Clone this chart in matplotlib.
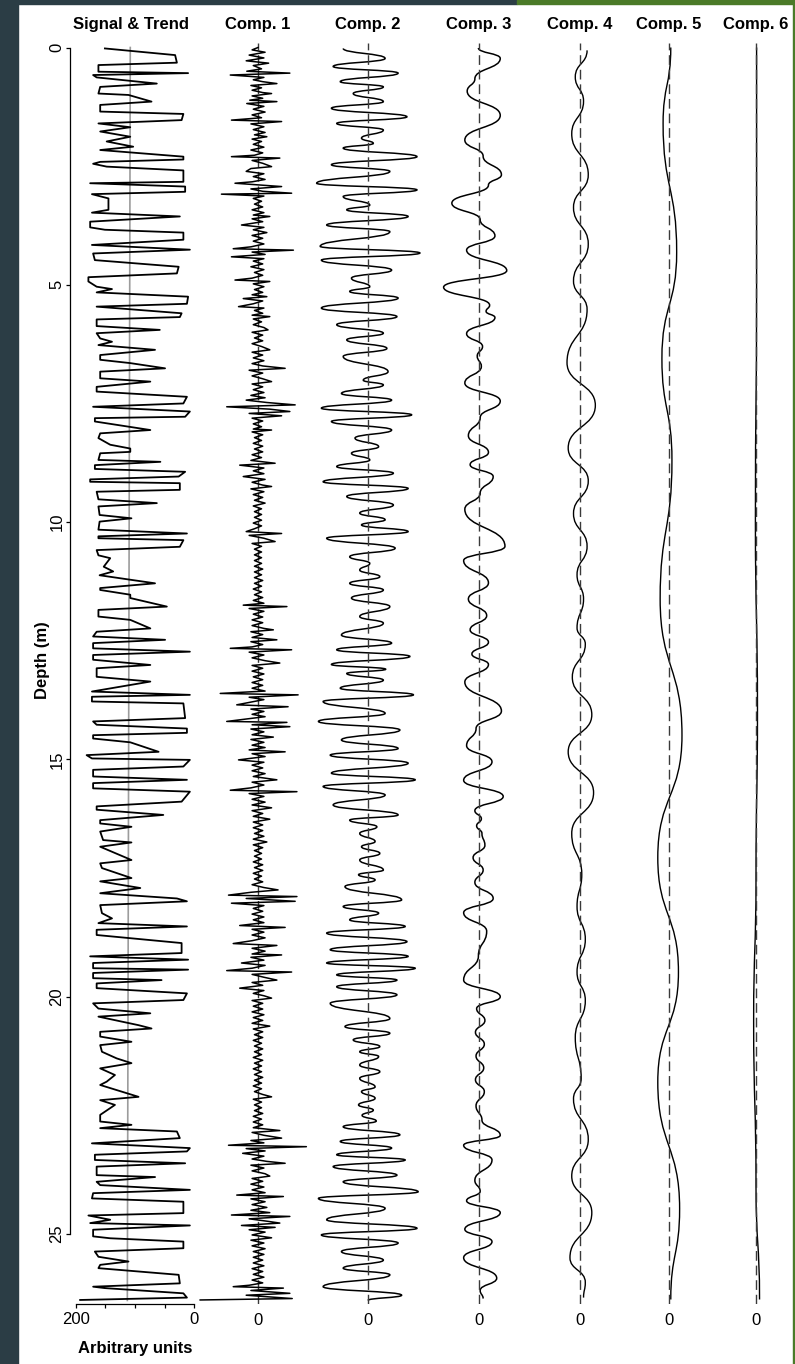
import matplotlib
matplotlib.use("Agg")
import matplotlib.pyplot as plt
from matplotlib.path import Path
from matplotlib.patches import PathPatch, Rectangle

plt.rcParams['font.family'] = ['Liberation Sans', 'DejaVu Sans']

# ---- data (depth in m, value in arbitrary units) ----
signal = [
    (0.02, 151), (0.16, 32), (0.32, 29), (0.37, 162), (0.51, 162), (0.54, 10), (0.58, 171), (0.63, 165),
    (0.76, 63), (0.83, 159), (0.97, 162), (1.00, 111), (1.14, 72), (1.21, 159), (1.35, 159), (1.40, 18),
    (1.53, 21), (1.60, 162), (1.68, 108), (1.77, 159), (1.88, 108), (1.98, 148), (2.09, 103), (2.16, 159),
    (2.30, 18), (2.36, 18), (2.41, 159), (2.45, 171), (2.51, 148), (2.59, 18), (2.83, 18), (2.86, 176),
    (2.93, 15), (3.04, 15), (3.09, 173), (3.18, 145), (3.42, 145), (3.48, 173), (3.56, 24), (3.67, 176),
    (3.79, 176), (3.84, 151), (3.90, 18), (4.05, 18), (4.16, 173), (4.26, 7), (4.34, 171), (4.48, 168),
    (4.62, 26), (4.76, 29), (4.84, 179), (4.93, 179), (5.04, 165), (5.09, 139), (5.16, 165), (5.25, 10),
    (5.40, 12), (5.46, 165), (5.60, 21), (5.68, 24), (5.73, 165), (5.87, 165), (5.95, 58), (6.02, 165),
    (6.13, 159), (6.20, 139), (6.27, 162), (6.37, 66),
    (6.48, 159), (6.58, 159), (6.65, 108), (6.76, 49), (6.83, 159), (6.97, 159), (7.04, 74), (7.15, 165),
    (7.25, 165), (7.36, 12), (7.50, 18), (7.57, 171), (7.67, 7), (7.78, 15), (7.81, 168), (7.88, 168),
    (8.06, 74), (8.13, 159), (8.23, 162), (8.37, 142), (8.45, 108), (8.52, 108), (8.55, 159), (8.69, 162),
    (8.73, 57), (8.80, 168), (8.88, 168), (8.94, 15), (9.04, 26), (9.10, 176), (9.15, 176), (9.18, 24),
    (9.32, 24), (9.36, 165), (9.52, 162), (9.60, 63), (9.67, 162), (9.85, 160), (9.92, 106), (9.99, 160),
    (10.16, 162), (10.24, 12), (10.30, 162), (10.34, 162), (10.38, 18), (10.52, 24), (10.59, 165),
    (10.70, 162), (10.76, 142), (10.94, 153), (11.04, 137), (11.12, 160), (11.29, 66), (11.39, 159),
    (11.43, 159), (11.53, 108), (11.60, 108), (11.78, 46), (11.85, 162),
    (11.99, 162), (12.06, 108), (12.24, 74), (12.31, 165), (12.41, 171), (12.48, 49), (12.55, 171),
    (12.66, 171), (12.73, 7), (12.80, 171), (12.90, 171), (13.01, 74),
    (13.08, 165), (13.26, 165), (13.36, 74), (13.57, 173), (13.64, 7), (13.68, 173), (13.78, 173),
    (13.82, 18), (14.13, 15), (14.20, 171), (14.27, 165), (14.35, 12), (14.44, 12), (14.49, 171),
    (14.56, 171), (14.64, 108), (14.84, 60), (14.91, 182), (14.98, 173), (15.01, 7), (15.15, 18),
    (15.22, 171), (15.36, 171), (15.43, 12), (15.50, 171), (15.61, 171), (15.68, 7), (15.89, 21),
    (15.99, 165), (16.06, 165), (16.17, 52), (16.28, 159), (16.35, 159), (16.42, 106), (16.52, 159),
    (16.70, 154), (16.75, 106), (16.84, 159), (17.12, 106), (17.19, 159), (17.29, 156), (17.50, 106),
    (17.57, 159), (17.71, 91), (17.82, 159), (17.93, 29), (17.99, 12), (18.07, 159), (18.24, 156),
    (18.35, 139), (18.45, 162), (18.52, 12), (18.59, 165), (18.70, 165), (18.87, 21), (19.08, 21),
    (19.15, 176), (19.22, 10), (19.29, 171), (19.40, 171), (19.43, 10), (19.50, 171), (19.61, 171),
    (19.65, 55), (19.72, 165), (19.82, 165), (19.93, 12), (20.07, 18), (20.14, 171), (20.25, 162),
    (20.35, 74), (20.42, 162), (20.60, 94), (20.67, 72), (20.74, 159), (20.84, 159), (20.95, 106),
    (21.02, 159), (21.16, 156), (21.30, 131), (21.40, 106), (21.51, 159), (21.65, 134), (21.79, 148),
    (21.86, 159), (22.11, 94), (22.18, 159), (22.28, 134), (22.49, 159), (22.63, 159), (22.70, 106),
    (22.77, 159), (22.84, 29), (22.98, 24), (23.09, 173), (23.19, 7), (23.26, 12), (23.33, 168),
    (23.44, 168), (23.51, 15), (23.58, 165), (23.76, 165), (23.80, 66), (23.90, 165), (23.97, 159),
    (24.07, 7), (24.14, 171), (24.25, 173), (24.32, 18), (24.56, 18), (24.61, 179), (24.70, 142),
    (24.77, 176), (24.82, 7), (24.91, 171), (25.05, 171), (25.09, 142), (25.16, 18), (25.30, 18),
    (25.37, 168), (25.48, 162), (25.58, 111), (25.65, 159), (25.72, 162), (25.86, 26), (26.04, 24),
    (26.11, 171), (26.14, 151), (26.25, 18), (26.34, 12), (26.39, 193),
]
trend = [(0.0, 108), (26.4, 113)]

comp1 = [
    (0.00, 0), (0.05, -10), (0.10, 12), (0.16, -15), (0.22, 10), (0.28, -20), (0.33, 18), (0.38, -8),
    (0.45, 6), (0.50, -19), (0.54, 54), (0.58, -47), (0.63, 10), (0.68, -8), (0.72, 8), (0.76, 32),
    (0.80, -12), (0.85, 6), (0.90, -10), (0.95, 8), (0.97, 23), (1.02, -10), (1.07, 8), (1.11, -14),
    (1.14, 32), (1.18, -19), (1.24, 10), (1.30, -8), (1.36, 12), (1.42, -10), (1.48, 6), (1.53, -45),
    (1.56, 40), (1.61, -12), (1.67, 10), (1.73, -8), (1.79, 12), (1.84, -6), (1.88, 15), (1.93, -10),
    (1.98, 6), (2.04, -8), (2.10, 10), (2.16, -12), (2.22, 8), (2.27, -6), (2.30, -45), (2.33, 37),
    (2.38, -10), (2.44, 8), (2.51, 23), (2.55, -12), (2.61, -20), (2.66, 10), (2.72, -8), (2.78, 12),
    (2.83, -10), (2.86, -39), (2.93, 40), (2.98, -12), (3.03, 8), (3.07, 57), (3.09, -62), (3.13, 10),
    (3.18, -8), (3.24, 6), (3.30, -6), (3.36, 8), (3.42, -10), (3.48, 10), (3.53, -8), (3.56, 20),
    (3.61, -10), (3.67, 8), (3.74, -28), (3.79, 10), (3.84, -8), (3.90, 15), (3.96, -10), (4.02, 8),
    (4.08, -8), (4.14, 10), (4.20, -12), (4.24, -42), (4.27, 60), (4.31, -10), (4.36, 12), (4.41, -45),
    (4.45, 10), (4.50, -8), (4.56, 8), (4.62, -12), (4.68, 10), (4.74, -6), (4.80, 8), (4.86, -10),
    (4.90, -39), (4.93, 20), (4.98, -8), (5.04, 10), (5.10, -6), (5.16, 8), (5.21, -10), (5.25, 15),
    (5.29, -25), (5.34, 8), (5.40, -8), (5.46, -33), (5.49, 10), (5.54, -6), (5.60, 8), (5.64, -10),
    (5.67, 20), (5.72, -8), (5.78, 6), (5.84, -8), (5.90, 10), (5.95, 17), (6.00, -10), (6.06, 8),
    (6.12, -6), (6.18, 8), (6.24, -10), (6.30, 6), (6.37, 20), (6.42, -10), (6.48, 8), (6.54, -8),
    (6.60, 10), (6.66, -10), (6.71, 8), (6.76, 46), (6.80, -15), (6.86, 8), (6.92, -10), (6.98, 8),
    (7.04, 23), (7.09, -10), (7.15, 8), (7.21, -8), (7.27, 10), (7.33, -12), (7.38, 12), (7.43, -20),
    (7.48, 15), (7.53, 63), (7.57, -53), (7.62, 20), (7.67, 54), (7.71, -15), (7.76, 40), (7.81, -10),
    (7.87, 8), (7.93, -8), (7.99, 6), (8.04, -8), (8.06, 23), (8.10, -10), (8.16, 8), (8.22, -6),
    (8.28, 6), (8.34, -8), (8.40, 8), (8.46, -6), (8.52, 8), (8.58, -10), (8.64, 6), (8.70, -12),
    (8.76, 29), (8.80, -31), (8.86, 10), (8.92, -8), (8.98, 10), (9.04, -25), (9.10, 12), (9.16, -10),
    (9.22, 8), (9.25, 23), (9.30, -12), (9.36, 10), (9.42, -8), (9.48, 8), (9.54, -6), (9.60, 12),
    (9.66, -8), (9.72, 6), (9.78, -6), (9.84, 6), (9.90, -6), (9.96, 6), (10.02, -8), (10.08, 6),
    (10.14, -6), (10.20, -20), (10.24, 40), (10.28, -15), (10.34, 10), (10.41, 29), (10.45, -10),
    (10.51, 6), (10.57, -6), (10.63, 6), (10.69, -6), (10.75, 6), (10.81, -6), (10.87, 6), (10.93, -6),
    (10.99, 8), (11.05, -6), (11.11, 6), (11.17, -6), (11.23, 8), (11.29, -6), (11.35, 6), (11.41, -8),
    (11.47, 6), (11.53, -6), (11.59, 8), (11.65, -8), (11.71, 10), (11.75, -25), (11.78, 49),
    (11.82, -15), (11.88, 10), (11.94, -8), (12.00, 8), (12.06, -10), (12.12, 8), (12.18, -10),
    (12.24, 10), (12.27, 26), (12.31, -12), (12.37, 8), (12.43, -10), (12.48, 32), (12.52, -12),
    (12.58, 8), (12.63, -10), (12.66, -47), (12.69, 57), (12.74, -15), (12.80, 10), (12.86, -10),
    (12.92, 12), (12.97, 37), (13.02, -10), (13.08, 8), (13.14, -10), (13.20, 10), (13.26, -8),
    (13.32, 8), (13.38, -10), (13.44, 8), (13.50, -10), (13.56, 12), (13.61, -64), (13.64, 68),
    (13.69, -15), (13.74, 10), (13.80, -15), (13.85, -36), (13.89, 51), (13.94, -12), (13.99, 10),
    (14.05, -10), (14.10, 12), (14.15, -20), (14.20, -53), (14.22, 49), (14.27, -10), (14.31, 54),
    (14.36, -12), (14.42, 10), (14.48, -10), (14.53, 26), (14.58, -12), (14.64, 10), (14.70, -10),
    (14.75, 12), (14.80, -15), (14.84, 46), (14.88, -10), (14.94, 12), (15.01, -33), (15.06, 10),
    (15.12, -10), (15.18, 8), (15.24, -10), (15.30, 12), (15.36, -8), (15.43, 32), (15.48, -10),
    (15.54, 10), (15.60, -12), (15.65, -47), (15.68, 66), (15.72, -15), (15.78, 10), (15.84, -10),
    (15.90, 12), (15.96, -10), (16.02, 23), (16.08, -10), (16.14, 8), (16.20, -8), (16.26, 20),
    (16.32, -8), (16.38, 8), (16.44, -8), (16.50, 8), (16.56, -6), (16.62, 10), (16.68, -8), (16.74, 15),
    (16.80, -8), (16.86, 8), (16.92, -6), (16.98, 6), (17.04, -6), (17.10, 6), (17.16, -8), (17.22, 8),
    (17.28, -6), (17.34, 8), (17.40, -8), (17.46, 6), (17.52, -6), (17.58, 8), (17.64, -10), (17.70, 10),
    (17.75, 34), (17.80, -12), (17.86, -50), (17.89, 66), (17.93, -20), (17.99, 63), (18.03, -45),
    (18.08, 10), (18.14, -8), (18.20, 8), (18.26, -10), (18.32, 10), (18.38, -8), (18.44, 10),
    (18.50, -31), (18.54, 46), (18.58, -10), (18.64, 10), (18.70, -10), (18.76, 12), (18.82, -10),
    (18.88, -42), (18.92, 32), (18.98, -10), (19.04, 12), (19.10, -10), (19.12, 40), (19.17, -12),
    (19.23, 10), (19.29, -28), (19.34, 12), (19.40, -10), (19.45, -53), (19.48, 57), (19.53, -10),
    (19.59, 10), (19.65, 32), (19.70, -10), (19.76, 8), (19.82, -31), (19.87, 10), (19.93, -8),
    (19.98, 10), (20.03, 23), (20.08, -10), (20.14, 8), (20.20, -8), (20.26, 8), (20.32, -10),
    (20.38, 10), (20.44, -8), (20.50, 8), (20.56, -10), (20.62, 20), (20.68, -8), (20.74, 8), (20.80, -6),
    (20.86, 8), (20.92, -8), (20.98, 6), (21.04, -6), (21.10, 8), (21.16, -6), (21.22, 6), (21.28, -8),
    (21.34, 8), (21.40, -6), (21.46, 6), (21.52, -8), (21.58, 6), (21.64, -6), (21.70, 8), (21.76, -6),
    (21.82, 6), (21.88, -8), (21.94, 6), (22.00, -6), (22.06, 8), (22.11, 23), (22.16, -8), (22.22, 6),
    (22.28, -6), (22.34, 6), (22.40, -6), (22.46, 8), (22.52, -8), (22.58, 6), (22.64, -8), (22.70, 8),
    (22.76, -8), (22.82, 37), (22.86, -10), (22.92, 10), (22.98, 40), (23.03, -12), (23.08, 10),
    (23.13, -50), (23.16, 82), (23.20, -20), (23.25, 12), (23.30, -26), (23.36, 10), (23.42, -10),
    (23.47, 15), (23.51, 46), (23.55, -12), (23.61, 10), (23.67, -10), (23.73, 12), (23.78, 20),
    (23.83, -10), (23.89, 8), (23.95, -12), (24.01, 10), (24.07, -10), (24.13, 12), (24.18, -36),
    (24.21, 43), (24.26, -12), (24.32, 12), (24.38, -10), (24.44, 15), (24.50, -12), (24.55, 20),
    (24.60, -45), (24.63, 54), (24.68, -15), (24.73, 15), (24.77, 37), (24.82, -28), (24.86, 29),
    (24.91, -15), (24.96, 12), (25.02, -10), (25.08, 23), (25.13, -12), (25.19, 10), (25.25, -10),
    (25.31, 12), (25.37, -8), (25.43, 10), (25.49, -8), (25.55, 8), (25.61, -8), (25.67, 10),
    (25.73, -10), (25.79, 8), (25.85, -8), (25.91, 10), (25.97, -10), (26.03, 8), (26.08, -15),
    (26.11, -42), (26.14, 43), (26.19, -12), (26.25, 54), (26.29, -20), (26.36, 58), (26.39, -98),
]

comp2 = [
    (0.02, -42), (0.23, 29), (0.40, -59), (0.54, 51), (0.72, -47), (0.83, 26), (0.97, -25), (1.14, 26),
    (1.28, -62), (1.46, 66), (1.60, -53), (1.74, 26), (1.91, -11), (2.02, 9), (2.12, -42), (2.30, 83),
    (2.47, -62), (2.61, 37), (2.86, -87), (3.00, 83), (3.14, -42), (3.32, 3), (3.42, -36), (3.56, 68),
    (3.74, -70), (3.88, 37), (4.19, -81), (4.33, 88), (4.48, -79), (4.69, 40), (4.86, -28), (5.04, 3),
    (5.14, -31), (5.28, 51), (5.49, -79), (5.67, 49), (5.84, -53), (6.02, 26), (6.16, -36), (6.34, 32),
    (6.51, -42), (6.83, 34), (7.01, -8), (7.11, 26), (7.29, -45), (7.43, 40), (7.60, -79), (7.74, 74),
    (7.88, -62), (8.06, 40), (8.23, -22), (8.41, 18), (8.55, -28), (8.69, 3), (8.83, -53), (8.97, 43),
    (9.15, -76), (9.29, 68), (9.46, -36), (9.64, 43), (9.81, -14), (9.95, 29), (10.06, -11), (10.20, 68),
    (10.34, -70), (10.55, 46), (10.73, -31), (10.87, 3), (11.01, -14), (11.15, 20), (11.29, -31),
    (11.43, 26), (11.60, -28), (11.78, 37), (11.99, -14), (12.13, 26), (12.38, -45), (12.55, 40),
    (12.69, -53), (12.83, 71), (13.00, -62), (13.10, 30), (13.19, -36), (13.33, 26), (13.50, -47),
    (13.64, 77), (13.78, -76), (14.03, 29), (14.20, -84), (14.38, 54), (14.59, -45), (14.77, 51),
    (14.91, -64), (15.08, 68), (15.29, -62), (15.43, 80), (15.57, -76), (15.75, 29), (15.96, -59),
    (16.17, 51), (16.28, -31), (16.42, 15), (16.56, -14), (16.73, 12), (16.84, -11), (16.98, 20),
    (17.12, -14), (17.33, 26), (17.43, -16), (17.54, 12), (17.68, -39), (17.96, 57), (18.10, -42),
    (18.24, 18), (18.38, -31), (18.52, 63), (18.66, -70), (18.84, 66), (19.01, -64), (19.15, 68),
    (19.29, -70), (19.40, 80), (19.54, -53), (19.65, 49), (19.79, -53), (19.96, 49), (20.14, -64),
    (20.46, 37), (20.63, -39), (20.77, 37), (20.91, -25), (21.05, 20), (21.16, -14), (21.26, 18),
    (21.44, -14), (21.58, 20), (21.72, -14), (21.90, 12), (22.00, -11), (22.14, 12), (22.28, -16),
    (22.39, 9), (22.50, -10), (22.62, 14), (22.74, -42), (22.91, 54), (23.05, -47), (23.19, 40),
    (23.33, -53), (23.44, 63), (23.58, -59), (23.76, 49), (23.90, -42), (24.11, 85), (24.25, -84),
    (24.46, 29), (24.70, -70), (24.88, 83), (25.02, -79), (25.19, 51), (25.37, -45), (25.55, 26),
    (25.72, -42), (25.86, 37), (26.11, -76), (26.29, 57), (26.40, 0),
]

comp3 = [
    (0.01, -1), (0.23, 36), (0.66, -7), (0.92, -20), (1.43, 36), (1.95, -24), (2.29, 7), (2.68, 38),
    (2.90, 16), (3.28, -46), (3.63, 2), (3.97, 27), (4.27, -21), (4.70, 47), (5.05, -60), (5.43, 18),
    (5.56, 12), (5.69, 27), (6.03, -21), (6.30, 6), (6.50, -3), (6.72, 4), (7.07, -24), (7.45, 36),
    (7.80, 2), (8.18, -18), (8.53, 16), (8.79, -15), (9.04, 24), (9.39, 2), (9.73, -24), (10.51, 44),
    (10.81, -26), (11.28, 16), (11.62, -18), (11.97, 13), (12.27, -15), (12.53, 16), (12.78, -12),
    (13.00, 16), (13.37, -24), (13.98, 38), (14.35, -5), (14.71, -21), (15.05, 22), (15.44, -26),
    (15.78, 41), (16.08, -7), (16.25, 4), (16.40, -4), (16.56, 5), (16.81, 10), (17.07, -10),
    (17.33, 7), (17.59, -7), (17.93, 24), (18.23, -26), (18.62, 13), (19.14, -1), (19.65, -26),
    (20.00, 36), (20.25, -4), (20.50, 10), (20.75, -6), (21.00, 9), (21.25, -5), (21.50, 8),
    (21.75, -6), (22.00, 9), (22.30, -5), (22.60, 5), (22.92, 36), (23.13, -26), (23.44, 22),
    (23.87, -7), (24.10, 2), (24.30, -21), (24.55, 36), (24.90, -24), (25.16, 22), (25.50, -26),
    (25.93, 30), (26.19, 2), (26.36, 7),
]

comp4 = [
    (0.06, 12), (0.62, -8), (1.13, 6), (1.82, -14), (2.68, 14), (3.37, -11), (4.14, 14), (4.92, -11),
    (5.52, 12), (6.64, -22), (7.54, 26), (8.44, -20), (9.13, 14), (9.82, -11), (10.51, 12), (11.11, -5),
    (11.62, 6), (12.23, -5), (12.57, 9), (13.27, -13), (14.06, 20), (14.84, -20), (15.70, 23),
    (16.56, -14), (17.42, 3), (18.10, -5), (18.79, 9), (19.48, -5), (20.08, 9), (20.86, -8), (21.72, 2),
    (22.15, -11), (23.01, 14), (23.78, -14), (24.55, 20), (25.50, -17), (26.02, 9), (26.34, 6),
]

comp5 = [
    (0.0, 3), (1.6, -10), (4.31, 13), (6.55, -12), (8.70, 5), (11.62, -15), (14.49, 22), (17.07, -19),
    (19.48, 16), (21.80, -19), (24.47, 18), (26.38, 3),
]

comp6 = [
    (0.0, 1), (5.0, 1), (10.0, -1), (14.0, 2.5), (17.5, 0), (20.5, -4), (24.0, 0), (26.38, 6),
]

titles = ["Signal & Trend", "Comp. 1", "Comp. 2", "Comp. 3", "Comp. 4", "Comp. 5", "Comp. 6"]
depth_ticks = [0, 5, 10, 15, 20, 25]

# ---- layout (pixels of the 795 x 1364 output) ----
W, H = 795, 1364
PX_PER_UNIT = 0.59
AX_TOP, AX_BOTTOM = 43, 1304
DEPTH0_PX, PX_PER_M = 47.5, 47.46
FS = 12


def box(left, right):
    return [left / W, 1 - AX_BOTTOM / H, (right - left) / W, (AX_BOTTOM - AX_TOP) / H]


def smooth_path(pts, k=0.5):
    # cubic segments with vertical tangents at every listed extremum
    verts = [(pts[0][1], pts[0][0])]
    codes = [Path.MOVETO]
    for (d0, v0), (d1, v1) in zip(pts[:-1], pts[1:]):
        h = (d1 - d0) * k
        verts += [(v0, d0 + h), (v1, d1 - h), (v1, d1)]
        codes += [Path.CURVE4] * 3
    return Path(verts, codes)


ylim = ((AX_BOTTOM - DEPTH0_PX) / PX_PER_M, (AX_TOP - DEPTH0_PX) / PX_PER_M)

fig = plt.figure(figsize=(W / 100, H / 100), dpi=100)
fig.patch.set_facecolor('white')

# slide background strips
dark, green = '#2b3d45', '#4b7a28'
fig.add_artist(Rectangle((0, 0), 18 / W, 1, transform=fig.transFigure, color=dark, zorder=0))
fig.add_artist(Rectangle((0, 1 - 4 / H), 517 / W, 4 / H, transform=fig.transFigure, color=dark, zorder=0))
fig.add_artist(Rectangle((517 / W, 1 - 4 / H), 1 - 517 / W, 4 / H, transform=fig.transFigure, color=green, zorder=0))
fig.add_artist(Rectangle((793 / W, 0), 2 / W, 1, transform=fig.transFigure, color=green, zorder=0))

# signal & trend panel
ax = fig.add_axes(box(70, 200))
ax.set_facecolor('none')
ax.plot([v for d, v in trend], [d for d, v in trend], color='#9c9c9c', lw=1.2)
ax.plot([v for d, v in signal], [d for d, v in signal], color='black', lw=1.3)
ax.set_xlim(200 + 6 / PX_PER_UNIT, -6 / PX_PER_UNIT)
ax.set_ylim(*ylim)
ax.spines['top'].set_visible(False)
ax.spines['right'].set_visible(False)
ax.spines['left'].set_bounds(0, 25)
ax.spines['bottom'].set_bounds(0, 200)
for s in ('left', 'bottom'):
    ax.spines[s].set_linewidth(0.9)
ax.set_yticks(depth_ticks)
ax.set_yticklabels([str(t) for t in depth_ticks])
ax.tick_params(axis='y', length=3, width=0.9, pad=1.0, labelsize=FS, labelrotation=90)
for lbl in ax.get_yticklabels():
    lbl.set_va('center')
ax.set_xticks([200, 150, 100, 50, 0])
ax.set_xticklabels(['200', '', '', '', '0'])
ax.tick_params(axis='x', length=3, width=0.9, pad=3, labelsize=FS)
fig.text(131 / W, 1 - 24 / H, titles[0], ha='center', va='center', fontsize=FS, fontweight='bold')

# component panels: (data, zero pixel, half width px, smooth?)
panels = [
    (comp1, 258, 62, False),
    (comp2, 368, 56, True),
    (comp3, 479, 44, True),
    (comp4, 580, 40, True),
    (comp5, 669, 40, True),
    (comp6, 756, 34, True),
]
for i, (pts, zero_px, half_px, smooth) in enumerate(panels):
    axc = fig.add_axes(box(zero_px - half_px, zero_px + half_px))
    axc.set_facecolor('none')
    lim = half_px / PX_PER_UNIT
    axc.set_xlim(-lim, lim)
    axc.set_ylim(*ylim)
    axc.axvline(0, color='#3a3a3a', lw=1.0, ls=(0, (7, 3.5)))
    if smooth:
        axc.add_patch(PathPatch(smooth_path(pts), fill=False, edgecolor='black',
                                lw=1.1 if i < 3 else 1.0))
    else:
        axc.plot([v for d, v in pts], [d for d, v in pts], color='black', lw=1.1)
    for s in axc.spines.values():
        s.set_visible(False)
    axc.set_yticks([])
    axc.set_xticks([0])
    axc.set_xticklabels(['0'])
    axc.tick_params(axis='x', length=0, pad=6.5, labelsize=FS)
    fig.text(zero_px / W, 1 - 24 / H, titles[i + 1], ha='center', va='center',
             fontsize=FS, fontweight='bold')

fig.text(42 / W, 1 - 660 / H, "Depth (m)", rotation=90, ha='center', va='center',
         fontsize=FS, fontweight='bold')
fig.text(135 / W, 1 - 1349 / H, "Arbitrary units", ha='center', va='center',
         fontsize=FS, fontweight='bold')

fig.savefig('out.png', dpi=100, facecolor=fig.get_facecolor())
